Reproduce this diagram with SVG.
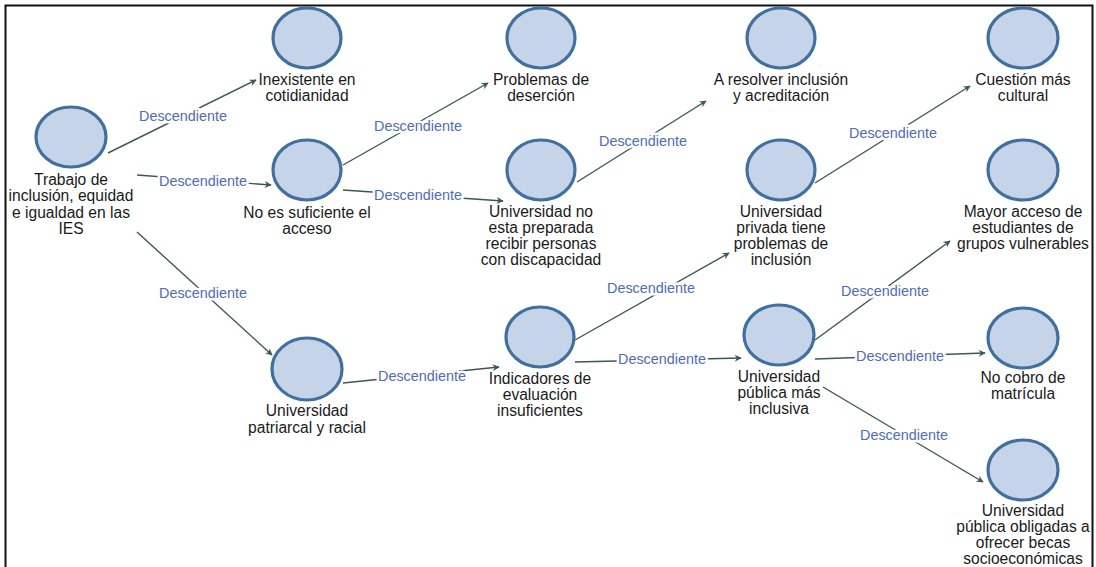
<svg xmlns="http://www.w3.org/2000/svg" width="1096" height="567" viewBox="0 0 1096 567">
<defs>
<style>
.n ellipse{fill:#c5d4e8;stroke:#41709f;stroke-width:3.2}
.n text{font-family:"Liberation Sans",Arial,sans-serif;font-size:15.6px;fill:#1a1a1a;text-anchor:middle}
.e line{stroke:#3e5753;stroke-width:1.4;marker-end:url(#ah)}
.lb{font-family:"Liberation Sans",Arial,sans-serif;font-size:14.4px;fill:#4f6db5;text-anchor:middle;stroke:#fff;stroke-width:5;paint-order:stroke;stroke-linejoin:round}
</style>
<marker id="ah" viewBox="0 0 10 10" refX="9" refY="5" markerWidth="9" markerHeight="7" orient="auto" markerUnits="userSpaceOnUse">
<path d="M0,0 L10,5 L0,10 L3,5 Z" fill="#3e5753"/>
</marker>
</defs>
<rect width="1096" height="567" fill="#fff"/>
<path d="M5.5,567 V5.5 H1092.5 V567" fill="none" stroke="#111" stroke-width="2"/>

<g class="e" id="connectors">
<line x1="108" y1="153" x2="256" y2="80"/>
<line x1="137" y1="175" x2="271" y2="185"/>
<line x1="137" y1="232" x2="272" y2="355"/>
<line x1="343" y1="165" x2="488" y2="83"/>
<line x1="343" y1="190" x2="503" y2="201"/>
<line x1="577" y1="182" x2="706" y2="101"/>
<line x1="343" y1="383" x2="499" y2="367"/>
<line x1="575" y1="340" x2="729" y2="253"/>
<line x1="575" y1="362" x2="741" y2="358"/>
<line x1="815" y1="183" x2="970" y2="86"/>
<line x1="815" y1="340" x2="950" y2="241"/>
<line x1="815" y1="359" x2="985" y2="353"/>
<line x1="823" y1="387" x2="983" y2="482"/>
<text class="lb" x="183" y="121">Descendiente</text>
<text class="lb" x="203" y="186">Descendiente</text>
<text class="lb" x="203" y="298">Descendiente</text>
<text class="lb" x="418" y="131">Descendiente</text>
<text class="lb" x="418" y="200">Descendiente</text>
<text class="lb" x="643" y="146">Descendiente</text>
<text class="lb" x="422" y="381">Descendiente</text>
<text class="lb" x="651" y="293">Descendiente</text>
<text class="lb" x="662" y="364">Descendiente</text>
<text class="lb" x="893" y="138">Descendiente</text>
<text class="lb" x="885" y="296">Descendiente</text>
<text class="lb" x="900" y="361">Descendiente</text>
<text class="lb" x="904" y="440">Descendiente</text>
</g>

<g class="n" id="n1"><ellipse cx="71" cy="137" rx="35" ry="30"/>
<text x="71" y="185">Trabajo de</text><text x="71" y="201">inclusión, equidad</text><text x="71" y="218">e igualdad en las</text><text x="71" y="234">IES</text></g>
<g class="n" id="n2"><ellipse cx="307" cy="38" rx="34" ry="30"/>
<text x="307" y="85">Inexistente en</text><text x="307" y="101">cotidianidad</text></g>
<g class="n" id="n3"><ellipse cx="307" cy="170" rx="34" ry="30"/>
<text x="307" y="218">No es suficiente el</text><text x="307" y="234">acceso</text></g>
<g class="n" id="n4"><ellipse cx="541" cy="38" rx="34" ry="30"/>
<text x="541" y="85">Problemas de</text><text x="541" y="101">deserción</text></g>
<g class="n" id="n5"><ellipse cx="541" cy="170" rx="34" ry="30"/>
<text x="541" y="217">Universidad no</text><text x="541" y="233">esta preparada</text><text x="541" y="249">recibir personas</text><text x="541" y="265">con discapacidad</text></g>
<g class="n" id="n6"><ellipse cx="781" cy="38" rx="34" ry="30"/>
<text x="781" y="85">A resolver inclusión</text><text x="781" y="101">y acreditación</text></g>
<g class="n" id="n7"><ellipse cx="1023" cy="38" rx="35" ry="30"/>
<text x="1023" y="85">Cuestión más</text><text x="1023" y="101">cultural</text></g>
<g class="n" id="n8"><ellipse cx="781" cy="170" rx="34" ry="30"/>
<text x="781" y="217">Universidad</text><text x="781" y="233">privada tiene</text><text x="781" y="249">problemas de</text><text x="781" y="265">inclusión</text></g>
<g class="n" id="n9"><ellipse cx="1023" cy="170" rx="35" ry="30"/>
<text x="1023" y="217">Mayor acceso de</text><text x="1023" y="233">estudiantes de</text><text x="1023" y="249">grupos vulnerables</text></g>
<g class="n" id="n10"><ellipse cx="307" cy="369" rx="35" ry="31"/>
<text x="307" y="416">Universidad</text><text x="307" y="433">patriarcal y racial</text></g>
<g class="n" id="n11"><ellipse cx="540" cy="337" rx="34" ry="30"/>
<text x="540" y="384">Indicadores de</text><text x="540" y="400">evaluación</text><text x="540" y="416">insuficientes</text></g>
<g class="n" id="n12"><ellipse cx="779" cy="335" rx="35" ry="30"/>
<text x="779" y="382">Universidad</text><text x="779" y="398">pública más</text><text x="779" y="414">inclusiva</text></g>
<g class="n" id="n13"><ellipse cx="1023" cy="338" rx="35" ry="30"/>
<text x="1023" y="383">No cobro de</text><text x="1023" y="399">matrícula</text></g>
<g class="n" id="n14"><ellipse cx="1023" cy="470" rx="35" ry="30"/>
<text x="1023" y="516">Universidad</text><text x="1023" y="532">pública obligadas a</text><text x="1023" y="548">ofrecer becas</text><text x="1023" y="564">socioeconómicas</text></g>
</svg>
